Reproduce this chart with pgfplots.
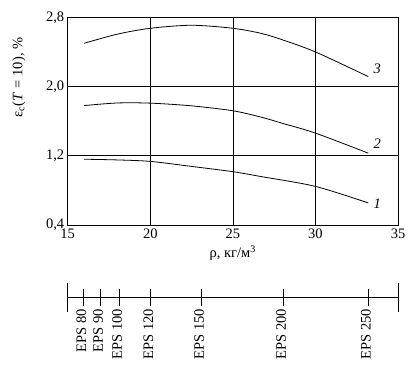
\documentclass[border=0pt]{standalone}
\usepackage{pgfplots}
\pgfplotsset{compat=1.18}
\usepackage{fontspec}
\setmainfont{Liberation Serif}
\newcommand\fs{\fontsize{14.5}{17}\selectfont}
\begin{document}
\begin{tikzpicture}[x=1pt,y=1pt]
\path[use as bounding box] (0,0) rectangle (410,373);
\begin{axis}[
  at={(67.7pt,148pt)}, anchor=south west,
  scale only axis, width=330.3pt, height=207.7pt,
  xmin=15, xmax=35, ymin=0.4, ymax=2.8,
  xtick={15,20,25,30,35},
  xticklabels={15,20,25,30,35},
  ytick={0.4,1.2,2.0,2.8},
  yticklabels={{0,4},{1,2},{2,0},{2,8}},
  /pgf/number format/assume math mode=true,
  major tick length=0pt,
  grid=major,
  grid style={black, line width=0.7pt},
  axis line style={line width=0.8pt},
  tick label style={font=\fs},
  label style={font=\fs},
  xlabel={ρ, кг/м\textsuperscript{3}},
  xlabel style={at={(axis description cs:0.5,0)}, anchor=center, yshift=-28pt},
  ylabel={ε\textsubscript{с}(\textit{T}\hspace{0.28em}=\hspace{0.28em}10), \%},
  ylabel style={at={(axis description cs:-0.148,0.71)}, anchor=center},
  clip=false,
]
\addplot[black, line width=0.8pt, smooth] coordinates {
 (16,2.50) (18,2.605) (20,2.673) (22.5,2.708) (25,2.673) (26.7,2.615) (28,2.54) (30,2.40) (33.2,2.115)};
\addplot[black, line width=0.8pt, smooth] coordinates {
 (16,1.78) (18,1.81) (20,1.808) (22.5,1.777) (25,1.72) (26.7,1.647) (28,1.575) (30,1.462) (33.2,1.23)};
\addplot[black, line width=0.8pt, smooth] coordinates {
 (16,1.16) (18,1.152) (20,1.135) (22.5,1.077) (25,1.016) (26.7,0.96) (30,0.846) (33.2,0.655)};
\node[font=\fs\itshape] at (axis cs:33.75,2.20) {3};
\node[font=\fs\itshape] at (axis cs:33.75,1.34) {2};
\node[font=\fs\itshape] at (axis cs:33.75,0.65) {1};
\end{axis}
\begin{axis}[
  at={(67.7pt,61pt)}, anchor=south west,
  scale only axis, width=330.3pt, height=30pt,
  xmin=15, xmax=35, ymin=-1, ymax=1,
  axis x line=middle, axis y line=none,
  axis line style={-, line width=0.8pt},
  xtick={15.95,16.96,18.12,20.0,23.08,28.05,33.18},
  xticklabels={EPS 80,EPS 90,EPS 100,EPS 120,EPS 150,EPS 200,EPS 250},
  xtick style={line width=0.8pt, black},
  major tick length=17pt,
  tick align=center,
  xticklabel style={font=\fs, rotate=90, anchor=east, yshift=2pt},
  extra x ticks={15,35},
  extra x tick labels={},
  extra x tick style={major tick length=29pt, xtick style={line width=0.8pt, black}},
]
\addplot[draw=none] coordinates {(15,0) (35,0)};
\end{axis}
\end{tikzpicture}
\end{document}
